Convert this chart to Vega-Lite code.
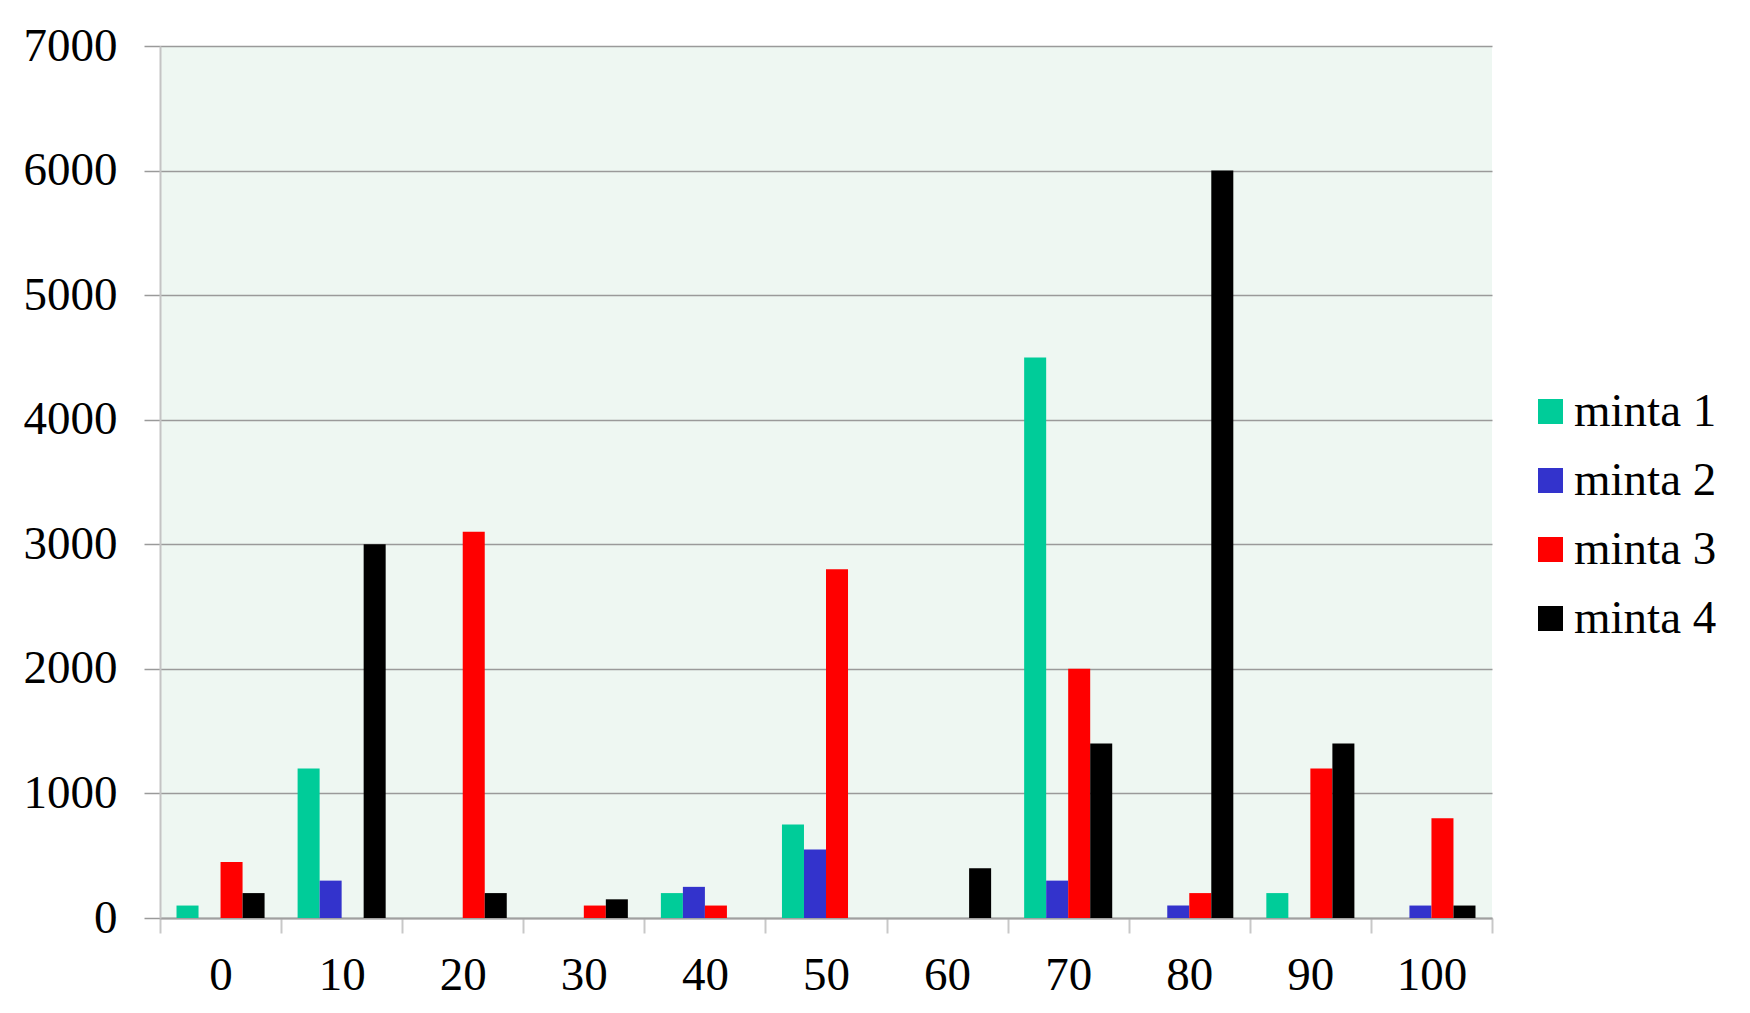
{
  "$schema": "https://vega.github.io/schema/vega-lite/v6.json",
  "width": 1332,
  "height": 872,
  "autosize": {"type": "none"},
  "padding": {"left": 160, "top": 46, "right": 258, "bottom": 95},
  "background": "#ffffff",
  "config": {
    "view": {"fill": "#EEF7F2", "stroke": null},
    "font": "Liberation Serif"
  },
  "data": {
    "values": [
      {"kat": 0, "minta": "minta 1", "ertek": 100},
      {"kat": 0, "minta": "minta 3", "ertek": 450},
      {"kat": 0, "minta": "minta 4", "ertek": 200},
      {"kat": 10, "minta": "minta 1", "ertek": 1200},
      {"kat": 10, "minta": "minta 2", "ertek": 300},
      {"kat": 10, "minta": "minta 4", "ertek": 3000},
      {"kat": 20, "minta": "minta 3", "ertek": 3100},
      {"kat": 20, "minta": "minta 4", "ertek": 200},
      {"kat": 30, "minta": "minta 3", "ertek": 100},
      {"kat": 30, "minta": "minta 4", "ertek": 150},
      {"kat": 40, "minta": "minta 1", "ertek": 200},
      {"kat": 40, "minta": "minta 2", "ertek": 250},
      {"kat": 40, "minta": "minta 3", "ertek": 100},
      {"kat": 50, "minta": "minta 1", "ertek": 750},
      {"kat": 50, "minta": "minta 2", "ertek": 550},
      {"kat": 50, "minta": "minta 3", "ertek": 2800},
      {"kat": 60, "minta": "minta 4", "ertek": 400},
      {"kat": 70, "minta": "minta 1", "ertek": 4500},
      {"kat": 70, "minta": "minta 2", "ertek": 300},
      {"kat": 70, "minta": "minta 3", "ertek": 2000},
      {"kat": 70, "minta": "minta 4", "ertek": 1400},
      {"kat": 80, "minta": "minta 2", "ertek": 100},
      {"kat": 80, "minta": "minta 3", "ertek": 200},
      {"kat": 80, "minta": "minta 4", "ertek": 6000},
      {"kat": 90, "minta": "minta 1", "ertek": 200},
      {"kat": 90, "minta": "minta 3", "ertek": 1200},
      {"kat": 90, "minta": "minta 4", "ertek": 1400},
      {"kat": 100, "minta": "minta 2", "ertek": 100},
      {"kat": 100, "minta": "minta 3", "ertek": 800},
      {"kat": 100, "minta": "minta 4", "ertek": 100}
    ]
  },
  "mark": {"type": "bar", "strokeWidth": 0},
  "encoding": {
    "x": {
      "field": "kat",
      "type": "ordinal",
      "scale": {"domain": [0, 10, 20, 30, 40, 50, 60, 70, 80, 90, 100], "paddingInner": 0, "paddingOuter": 0},
      "axis": {
        "title": null,
        "labelAngle": 0,
        "labelFont": "Liberation Serif",
        "labelFontSize": 47,
        "labelColor": "#000000",
        "labelPadding": 19,
        "tickBand": "extent",
        "tickSize": 15,
        "tickColor": "#c8c8c8",
        "tickWidth": 2,
        "domainColor": "#a0a0a0",
        "domainWidth": 2,
        "grid": false
      }
    },
    "xOffset": {
      "field": "minta",
      "type": "nominal",
      "scale": {"domain": ["minta 1", "minta 2", "minta 3", "minta 4"], "paddingInner": 0, "paddingOuter": 0.75}
    },
    "y": {
      "field": "ertek",
      "type": "quantitative",
      "scale": {"domain": [0, 7000], "nice": false},
      "axis": {
        "title": null,
        "format": "d",
        "values": [0, 1000, 2000, 3000, 4000, 5000, 6000, 7000],
        "labelFont": "Liberation Serif",
        "labelFontSize": 47,
        "labelColor": "#000000",
        "labelPadding": 27,
        "tickSize": 16,
        "tickColor": "#9a9a9a",
        "tickWidth": 1.5,
        "grid": true,
        "gridColor": "#9a9a9a",
        "gridWidth": 1.5,
        "domainColor": "#c4c4c4",
        "domainWidth": 2
      }
    },
    "color": {
      "field": "minta",
      "type": "nominal",
      "scale": {"domain": ["minta 1", "minta 2", "minta 3", "minta 4"], "range": ["#00CC99", "#3333CC", "#FF0000", "#000000"]},
      "legend": {
        "title": null,
        "orient": "none",
        "legendX": 1367,
        "legendY": 342,
        "padding": 0,
        "symbolType": "square",
        "symbolSize": 625,
        "symbolStrokeWidth": 0,
        "labelFont": "Liberation Serif",
        "labelFontSize": 47,
        "labelColor": "#000000",
        "labelOffset": 0,
        "rowPadding": 21
      }
    }
  }
}
